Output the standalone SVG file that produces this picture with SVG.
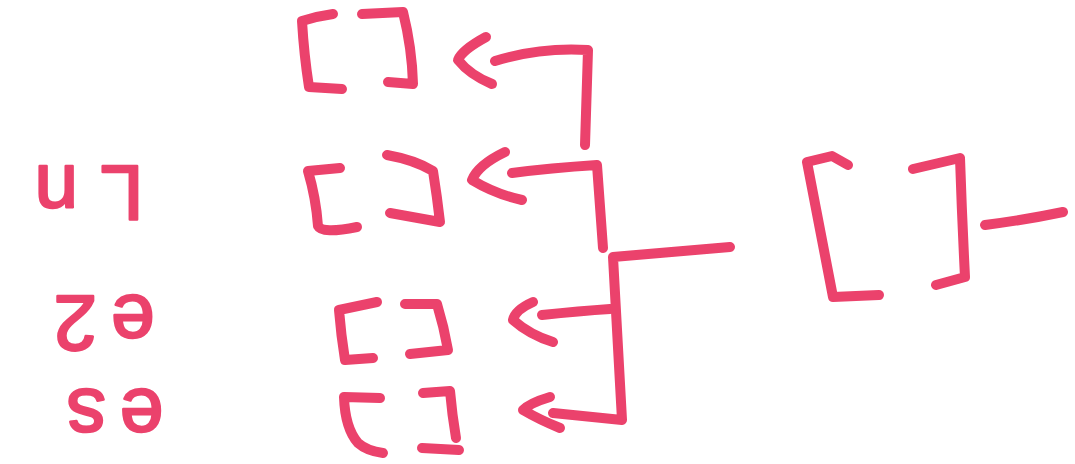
<svg xmlns="http://www.w3.org/2000/svg" width="1075" height="464" viewBox="0 0 1075 464">
<style>
.m{fill:none;stroke:#eb426c;stroke-width:10;stroke-linecap:round;stroke-linejoin:round}
.t{font-family:"Liberation Sans",Arial,sans-serif;font-size:78px;fill:#eb426c;stroke:#eb426c;stroke-width:2.5;stroke-linejoin:round}
</style>
<rect width="1075" height="464" fill="#ffffff"/>
<g id="labels">
<text class="t" transform="rotate(180 78 166)" x="78" y="166" text-anchor="middle" letter-spacing="22">Ln</text>
<text class="t" transform="rotate(180 97 296)" x="97" y="296" text-anchor="middle" letter-spacing="14">e2</text>
<text class="t" transform="rotate(180 108 390)" x="108" y="390" text-anchor="middle" letter-spacing="14">es</text>
</g>
<g id="box1">
<path class="m" d="M333,14 Q318,16 302,21 Q304,55 309,87 L342,89"/>
<path class="m" d="M362,14 L403,12 Q412,48 413,84 L388,82"/>
</g>
<g id="box2">
<path class="m" d="M340,168 L308,171 Q316,198 318,226 Q322,234 357,227"/>
<path class="m" d="M387,155 Q415,160 433,171 Q437,196 440,222 L390,213"/>
</g>
<g id="box3">
<path class="m" d="M377,302 L339,310 Q341,335 345,360 L373,358"/>
<path class="m" d="M405,304 L437,304 Q444,327 448,350 L410,354"/>
</g>
<g id="box4">
<path class="m" d="M380,398 L344,397 Q345,428 358,443 Q367,451 383,453"/>
<path class="m" d="M423,393 L450,391 Q452,414 456,438"/>
<path class="m" d="M422,448 L459,450"/>
</g>
<g id="bigbox">
<path class="m" d="M848,165 L832,156 L807,162 Q820,230 833,297 L879,295"/>
<path class="m" d="M913,169 L960,158 Q962,218 965,277 L936,285"/>
</g>
<g id="connectors">
<path class="m" d="M486,37 Q462,50 458,60 Q470,75 492,84"/>
<path class="m" d="M495,61 Q540,47 588,50 L585,145"/>
<path class="m" d="M505,152 Q478,165 472,180 Q495,194 522,200"/>
<path class="m" d="M512,173 Q550,168 597,165 L603,248"/>
<path class="m" d="M533,302 Q515,310 513,320 Q530,335 553,342"/>
<path class="m" d="M542,315 Q580,311 610,309"/>
<path class="m" d="M730,247 L613,257 L622,420 L553,413"/>
<path class="m" d="M550,397 Q530,403 523,410 Q540,420 560,428"/>
<path class="m" d="M985,225 Q1025,220 1063,212"/>
</g>
</svg>
